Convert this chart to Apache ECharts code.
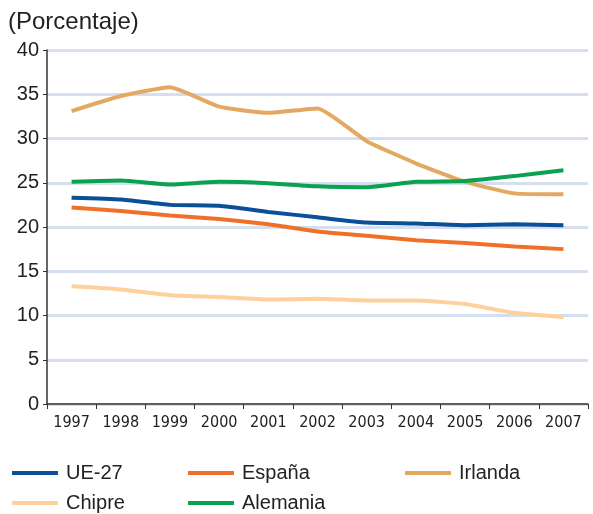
<!DOCTYPE html>
<html>
<head>
<meta charset="utf-8">
<script src="https://cdn.jsdelivr.net/npm/echarts@6/dist/echarts.min.js"></script>
<style>
  html, body { margin: 0; padding: 0; background: #fff; }
  #chart { width: 593px; height: 514px; }
</style>
</head>
<body>
<div id="chart"></div>
<script>
// datos (porcentaje)
var years = ['1997','1998','1999','2000','2001','2002','2003','2004','2005','2006','2007'];
var ue27     = [23.3, 23.1, 22.5, 22.4, 21.7, 21.1, 20.5, 20.4, 20.2, 20.3, 20.2];
var espana   = [22.2, 21.8, 21.3, 20.9, 20.3, 19.5, 19.0, 18.5, 18.2, 17.8, 17.5];
var irlanda  = [33.1, 34.8, 35.8, 33.6, 32.9, 33.4, 29.7, 27.2, 25.1, 23.8, 23.7];
var chipre   = [13.3, 12.95, 12.3, 12.1, 11.8, 11.9, 11.7, 11.7, 11.3, 10.3, 9.8];
var alemania = [25.1, 25.25, 24.8, 25.1, 24.95, 24.6, 24.5, 25.1, 25.2, 25.75, 26.4];

var colores = {
	'UE-27': '#0b4f98',
	'España': '#f0702a',
	'Irlanda': '#e3a962',
	'Chipre': '#fdd09c',
	'Alemania': '#0aa24f'
};

function serie(nombre, datos) {
	return {
		name: nombre,
		type: 'line',
		data: datos,
		symbol: 'none',
		smooth: 0.15,
		lineStyle: { width: 4, color: colores[nombre] },
		itemStyle: { color: colores[nombre] }
	};
}

// una leyenda por elemento, para colocarlas en tres columnas
function leyenda(nombre, left, top) {
	return {
		left: left,
		top: top,
		padding: 0,
		itemWidth: 46,
		itemHeight: 4,
		icon: 'rect',
		data: [nombre],
		textStyle: { fontFamily: 'Liberation Sans', fontSize: 20, color: '#222', padding: [0, 0, 0, 3] }
	};
}

var myChart = echarts.init(document.getElementById('chart'));
myChart.setOption({
	animation: false,
	backgroundColor: '#fff',
	title: {
		text: '(Porcentaje)',
		left: 3,
		top: 5,
		textStyle: { fontFamily: 'Liberation Sans', fontSize: 24, fontWeight: 'normal', color: '#222' }
	},
	grid: { left: 47, right: 5, top: 50, bottom: 110, containLabel: false },
	legend: [
		leyenda('UE-27', 12, 463),
		leyenda('Chipre', 12, 493),
		leyenda('España', 188, 463),
		leyenda('Alemania', 188, 493),
		leyenda('Irlanda', 405, 463)
	],
	xAxis: {
		type: 'category',
		data: years,
		boundaryGap: true,
		axisLine: { lineStyle: { color: '#333', width: 1.5 } },
		axisTick: { show: true, length: 5, lineStyle: { color: '#333' } },
		axisLabel: { fontFamily: "'DejaVu Sans Condensed', 'Liberation Sans Narrow', sans-serif", fontSize: 16, color: '#222', margin: 11 }
	},
	yAxis: {
		type: 'value',
		min: 0,
		max: 40,
		interval: 5,
		axisLine: { show: true, lineStyle: { color: '#333', width: 1.5 } },
		axisTick: { show: true, length: 4, lineStyle: { color: '#333' } },
		axisLabel: { fontFamily: 'Liberation Sans', fontSize: 20, color: '#222', margin: 8 },
		splitLine: { lineStyle: { color: '#d5dff0', width: 3 } }
	},
	series: [
		serie('UE-27', ue27),
		serie('España', espana),
		serie('Irlanda', irlanda),
		serie('Chipre', chipre),
		serie('Alemania', alemania)
	]
});
</script>
</body>
</html>
